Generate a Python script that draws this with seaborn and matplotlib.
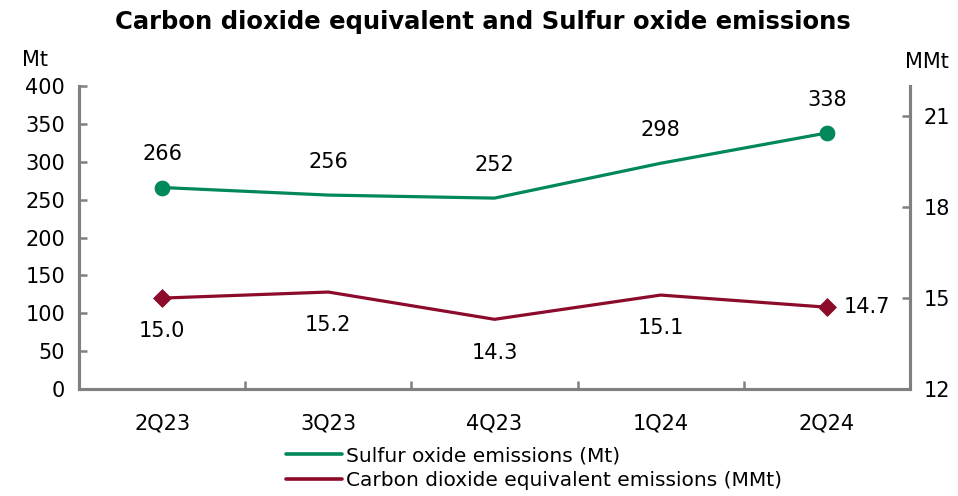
import matplotlib
matplotlib.use("Agg")
import matplotlib.pyplot as plt
import seaborn as sns
import pandas as pd
from matplotlib.lines import Line2D

quarters = ["2Q23", "3Q23", "4Q23", "1Q24", "2Q24"]
sulfur = [266, 256, 252, 298, 338]
co2 = [15.0, 15.2, 14.3, 15.1, 14.7]
left_ticks = [0, 50, 100, 150, 200, 250, 300, 350, 400]
right_ticks = [12, 15, 18, 21]

green = "#00875A"
red = "#8C0B2A"
gray = "#808080"

sns.set_theme(style="white")
plt.rcParams["font.family"] = ["DejaVu Sans"]
plt.rcParams["text.color"] = "black"
plt.rcParams["axes.labelcolor"] = "black"

df = pd.DataFrame({"q": quarters, "sulfur": sulfur, "co2": co2})

fig = plt.figure(figsize=(9.58, 4.96), dpi=100)
ax = fig.add_axes([79/958, 1-389/496, (910-79)/958, (389-86)/496])
ax2 = ax.twinx()

sns.lineplot(data=df, x="q", y="sulfur", ax=ax, color=green, linewidth=2.3, sort=False)
sns.lineplot(data=df, x="q", y="co2", ax=ax2, color=red, linewidth=2.3, sort=False)

# markers on first and last points only
ends = df.iloc[[0, -1]]
sns.scatterplot(data=ends, x="q", y="sulfur", ax=ax, color=green, s=110, marker="o", edgecolor=green, zorder=5)
sns.scatterplot(data=ends, x="q", y="co2", ax=ax2, color=red, s=80, marker="D", edgecolor=red, zorder=5)

ax.set_xlim(-0.5, 4.5)
ax.set_ylim(0, 400)
ax2.set_ylim(12, 22)
ax.set_yticks(left_ticks)
ax2.set_yticks(right_ticks)
ax.set_xlabel("")
ax.set_ylabel("")
ax2.set_ylabel("")

fs = 15
ax.tick_params(axis="y", direction="in", length=6, width=1.8, color=gray, labelsize=fs, pad=10, left=True)
ax2.tick_params(axis="y", direction="in", length=6, width=1.8, color=gray, labelsize=fs, pad=10, right=True)
ax.tick_params(axis="x", length=0, labelsize=fs, pad=18)
ax.set_xticks([-0.5 + i for i in range(1, 5)], minor=True)
ax.tick_params(axis="x", which="minor", direction="in", length=6, width=1.8, color=gray, bottom=True)

for a in (ax, ax2):
    a.spines["top"].set_visible(False)
    for s in ("left", "right", "bottom"):
        a.spines[s].set_color(gray)
        a.spines[s].set_linewidth(2.2)
    a.tick_params(labelcolor="black")
    a.set_facecolor("none")

for i, v in enumerate(sulfur):
    ax.annotate(f"{v}", (i, v), xytext=(0, 24), textcoords="offset points",
                ha="center", va="center", fontsize=fs, color="black")
for i, v in enumerate(co2):
    if i == len(co2) - 1:
        ax2.annotate(f"{v:.1f}", (i, v), xytext=(12, 0), textcoords="offset points",
                     ha="left", va="center", fontsize=fs, color="black")
    else:
        ax2.annotate(f"{v:.1f}", (i, v), xytext=(0, -24), textcoords="offset points",
                     ha="center", va="center", fontsize=fs, color="black")

fig.text(35/958, 1-60/496, "Mt", ha="center", va="center", fontsize=fs)
fig.text(927/958, 1-62/496, "MMt", ha="center", va="center", fontsize=fs)
fig.text(483/958, 1-22/496, "Carbon dioxide equivalent and Sulfur oxide emissions",
         ha="center", va="center", fontsize=17.5, fontweight="bold")

handles = [Line2D([], [], color=green, linewidth=2.6),
           Line2D([], [], color=red, linewidth=2.6)]
labels = ["Sulfur oxide emissions (Mt)", "Carbon dioxide equivalent emissions (MMt)"]
fig.legend(handles, labels, loc="upper left", bbox_to_anchor=(286/958, 1-446/496),
           frameon=False, fontsize=14.5, handlelength=2.8, handletextpad=0.2,
           labelspacing=0.3, borderpad=0, borderaxespad=0)

fig.savefig("out.png", dpi=100)
